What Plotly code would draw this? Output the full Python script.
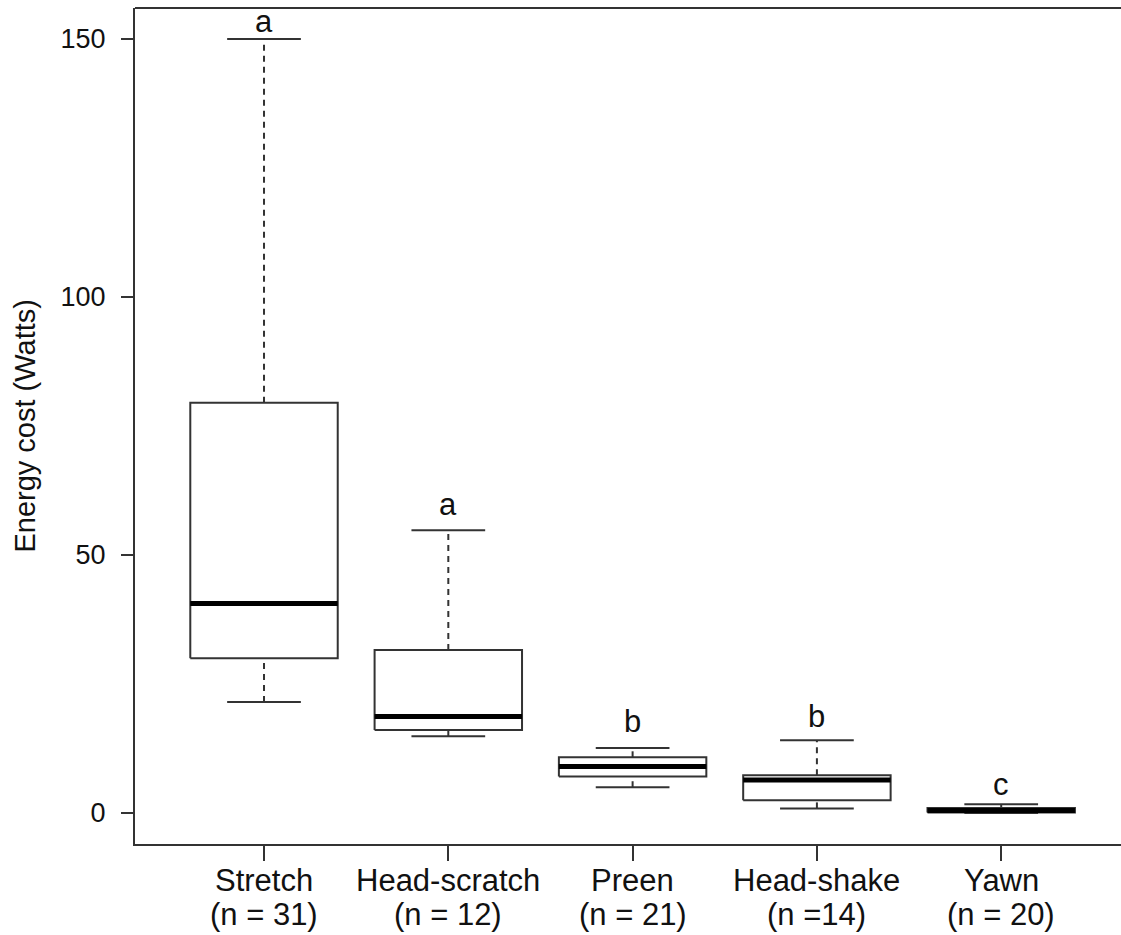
import plotly.graph_objects as go

categories = ["Stretch", "Head-scratch", "Preen", "Head-shake", "Yawn"]
n_labels = ["(n = 31)", "(n = 12)", "(n = 21)", "(n =14)", "(n = 20)"]
whisker_low = [21.5, 14.9, 5.0, 0.9, 0.0]
q1 = [30.0, 16.1, 7.1, 2.5, 0.1]
median = [40.6, 18.7, 9.0, 6.4, 0.5]
q3 = [79.5, 31.6, 10.8, 7.3, 1.0]
whisker_high = [150.0, 54.8, 12.6, 14.1, 1.7]
letters = ["a", "a", "b", "b", "c"]
letter_y = [153.4, 59.8, 17.8, 18.7, 5.6]
y_ticks = [0, 50, 100, 150]

FONT = "Liberation Sans, Arial, sans-serif"
FS = 31
FS_Y = 27
TXT = "#111111"
LINE = "#333333"
half = 0.4   # half box width
cap = 0.2    # half staple width

pos = list(range(1, len(categories) + 1))

bx, by, mx, my, wx, wy, cx, cy = [], [], [], [], [], [], [], []
for p, lo, a, m, b, hi in zip(pos, whisker_low, q1, median, q3, whisker_high):
    bx += [p - half, p + half, p + half, p - half, p - half, None]
    by += [a, a, b, b, a, None]
    mx += [p - half, p + half, None]
    my += [m, m, None]
    wx += [p, p, None, p, p, None]
    wy += [b, hi, None, lo, a, None]
    cx += [p - cap, p + cap, None, p - cap, p + cap, None]
    cy += [hi, hi, None, lo, lo, None]

fig = go.Figure()
fig.add_trace(go.Scatter(x=wx, y=wy, mode="lines",
                         line=dict(color=LINE, width=2, dash="6px,5px"), hoverinfo="skip"))
fig.add_trace(go.Scatter(x=cx, y=cy, mode="lines",
                         line=dict(color=LINE, width=2), hoverinfo="skip"))
fig.add_trace(go.Scatter(x=bx, y=by, mode="lines", fill="toself", fillcolor="white",
                         line=dict(color=LINE, width=2), hoverinfo="skip"))
fig.add_trace(go.Scatter(x=mx, y=my, mode="lines",
                         line=dict(color="black", width=5), hoverinfo="skip"))

for p, t, ly in zip(pos, letters, letter_y):
    fig.add_annotation(x=p, y=ly, text=t, showarrow=False, xref="x", yref="y",
                       yanchor="middle", font=dict(family=FONT, size=FS, color=TXT))

# category labels: name on the first line, sample size on the second
for p, c, n in zip(pos, categories, n_labels):
    fig.add_annotation(x=p, y=-0.0431, xref="x", yref="paper", text=c, showarrow=False,
                       xanchor="center", yanchor="middle",
                       font=dict(family=FONT, size=FS, color=TXT))
    fig.add_annotation(x=p, y=-0.0845, xref="x", yref="paper", text=n, showarrow=False,
                       xanchor="center", yanchor="middle",
                       font=dict(family=FONT, size=FS, color=TXT))

fig.add_annotation(x=-0.112, y=0.5, xref="paper", yref="paper", text="Energy cost (Watts)",
                   textangle=-90, showarrow=False, xanchor="center", yanchor="middle",
                   font=dict(family=FONT, size=FS - 2, color=TXT))

fig.add_shape(type="line", xref="paper", yref="paper", x0=0, x1=1, y0=1, y1=1,
              line=dict(color=LINE, width=2))

fig.update_layout(
    width=1121, height=935,
    margin=dict(l=135, r=0, t=8, b=91),
    plot_bgcolor="white", paper_bgcolor="white",
    showlegend=False,
    font=dict(family=FONT, size=FS, color=TXT),
    xaxis=dict(range=[0.3, 5.65], tickvals=pos, showticklabels=False,
               ticks="outside", ticklen=15, tickwidth=2, tickcolor=LINE,
               showline=True, linecolor=LINE, linewidth=2, mirror=False,
               showgrid=False, zeroline=False, fixedrange=True),
    yaxis=dict(range=[-6, 156], tickvals=y_ticks, ticktext=[str(v) for v in y_ticks],
               tickfont=dict(family=FONT, size=FS_Y, color=TXT),
               ticks="outside", ticklen=12, tickwidth=2, tickcolor=LINE,
               ticklabelstandoff=10,
               showline=True, linecolor=LINE, linewidth=2, mirror=False,
               showgrid=False, zeroline=False, fixedrange=True),
)

fig.write_html("out.html")
